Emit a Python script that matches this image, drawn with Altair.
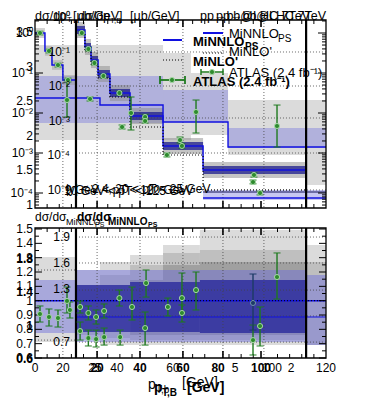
import altair as alt
import pandas as pd

FONT = "Liberation Sans"
W, H = 291, 338          # one plot area holding both panels
X0, Y0 = 35, 20          # page position of the plot origin

# ---------------- scales ----------------
XS = alt.Scale(domain=[0, 120], nice=False, zero=False)
TOP = alt.Scale(type="log", domain=[10 ** -8.125, 10 ** 0.325], nice=False)
BOT = alt.Scale(domain=[0.6, 2.9585], nice=False, zero=False)
TOP_B = alt.Scale(type="log", domain=[10 ** -9.87, 10 ** -0.0725], nice=False)
TOP_LIN = alt.Scale(domain=[-1.211, 3.673], nice=False, zero=False)
BOT_B = alt.Scale(domain=[0.517, 4.38], nice=False, zero=False)
BOT_BOLD = alt.Scale(domain=[0.612, 4.668], nice=False, zero=False)

# ---------------- data: upper panel ----------------
grey_edges = [0, 16.9, 52.8, 64.3, 79.6, 111.8, 120]
grey_hi = [0.501, 0.501, 0.316, 0.1, 0.0211, 0.0211]
grey_lo = [0.00211, 0.00211, 0.00211, 0.00282, 0.000891, 0.000158]

blue_edges = [0, 52.8, 79.6, 120]
blue_hi = [0.0841, 0.0376, 0.00422]
blue_lo = [0.00562, 0.00596, 0.00133]
bline_edges = [0, 26.8, 52.8, 79.6, 120]
bline_vals = [0.0237, 0.0158, 0.00596, 0.00141]

fine_edges = [16.9, 20.6, 23.1, 26.0, 30.9, 39.2, 52.8, 69.3, 111.8]
fine_vals = [1.19, 0.447, 0.211, 0.0944, 0.0316, 0.00841, 0.0015, 0.000376]
fine_nv_hi = [1.5, 0.563, 0.266, 0.119, 0.0398, 0.0106, 0.00189, 0.000474]
fine_nv_lo = [0.944, 0.355, 0.167, 0.0749, 0.0251, 0.00667, 0.00119, 0.000298]
fine_gr_hi = [1.89, 0.708, 0.334, 0.150, 0.0501, 0.0133, 0.00238, 0.000596]
fine_gr_lo = [0.751, 0.282, 0.133, 0.0596, 0.0199, 0.00531, 0.000946, 0.000237]
fine_minlo = [0.945, 0.355, 0.168, 0.075, 0.0251, 0.00447, 0.000891, 0.000119]

low_edges = [0, 4.1, 7.0, 11.5, 16.9]
low_vals = [1.0, 0.355, 0.158, 0.0668]
low_gr_hi = [1.33, 0.47, 0.21, 0.089]
low_gr_lo = [0.75, 0.27, 0.12, 0.05]

tail_edges = [69.3, 120]
tail_lo = [0.0000668]
tail_hi = [0.000119]
tail_line = [0.000075]
tail_line2 = [0.000106]

top_px = [2.06, 5.77, 9.48, 13.6, 13.2, 19.3, 22.0, 24.5, 28.2, 34.8, 45.4, 45.4,
          59.8, 60.6, 22.7, 35.9, 39.6, 54.4, 66.4, 99.8, 90.3, 89.9, 92.8]
top_py = [1.0, 0.355, 0.158, 0.0668, 0.0211, 1.0, 0.398, 0.178, 0.0841, 0.0316, 0.00794, 0.00631,
          0.00211, 0.0015, 0.0224, 0.00447, 0.01, 0.000891, 0.0106, 0.00473, 0.000282, 0.000188, 0.0001]
top_lo = [0.9, 0.32, 0.142, 0.06, 0.00794, 0.9, 0.36, 0.16, 0.075, 0.028, 0.0068, 0.0056,
          0.0018, 0.0013, 0.02, 0.004, 0.00376, 0.0008, 0.00316, 0.00141, 0.00025, 0.00017, 0.00009]
top_hi = [1.1, 0.39, 0.175, 0.074, 0.0668, 1.1, 0.44, 0.2, 0.094, 0.035, 0.0092, 0.0071,
          0.0025, 0.0017, 0.025, 0.005, 0.0251, 0.001, 0.0211, 0.0158, 0.00032, 0.00021, 0.00011]

# ---------------- data: ratio panel ----------------
rg1_edges = [0, 16.9, 26.8, 39.2, 52.8, 68.0, 111.8, 120]
rg1_hi = [1.305, 1.214, 1.270, 1.319, 1.388, 1.493, 1.388]
rg1_lo = [0.711, 0.725, 0.690, 0.690, 0.690, 0.690, 0.690]
rg2_edges = [16.9, 26.8, 39.2, 52.8, 68.0, 111.8, 120]
rg2_hi = [1.109, 1.179, 1.249, 1.333, 1.353, 1.270]
rg2_lo = [0.760, 0.739, 0.725, 0.725, 0.725, 0.690]
rg3_edges = [39.2, 52.8, 68.0, 111.8]
rg3_hi = [1.144, 1.249, 1.270]
rg3_lo = [0.760, 0.760, 0.760]
rl_edges = [0, 16.9, 111.8, 120]
rl_hi = [1.144, 1.214, 1.179]
rl_lo = [0.774, 0.711, 0.690]
rn_edges = [16.9, 39.2, 68.0, 111.8]
rn_hi = [1.109, 1.130, 1.144]
rn_lo = [0.781, 0.781, 0.774]

r_x = [2.06, 5.77, 9.48, 13.2, 14.4, 18.6, 22.0, 25.2, 28.5, 34.8, 18.6, 22.0, 25.2, 28.5, 35.1,
       40.0, 45.8, 45.4, 54.8, 60.6, 60.6, 66.4, 99.8, 92.8, 89.9]
r_y = [0.907, 0.886, 0.879, 0.998, 0.935, 0.956, 0.914, 0.886, 0.928, 1.018, 0.788, 0.739, 0.732, 0.746, 0.746,
       0.956, 1.123, 0.809, 0.956, 1.018, 0.914, 1.074, 1.165, 0.823, 0.725]
r_lo = [0.851, 0.823, 0.816, 0.914, 0.879, 0.914, 0.865, 0.837, 0.879, 0.963, 0.725, 0.684, 0.677, 0.690, 0.690,
        0.865, 1.025, 0.690, 0.893, 0.921, 0.851, 0.935, 1.011, 0.684, 0.621]
r_hi = [0.963, 0.942, 0.935, 1.095, 0.991, 0.998, 0.963, 0.935, 0.977, 1.074, 0.851, 0.795, 0.795, 0.809, 0.795,
        1.095, 1.214, 0.921, 1.018, 1.193, 0.970, 1.200, 1.333, 0.956, 0.830]
rn_x = [89.9]
rn_y = [0.984]
rn_elo = [0.795]
rn_ehi = [1.186]

# ---------------- tick labels ----------------
top_lab_v = [1, 0.1, 0.01, 0.001, 0.0001]
top_lab_t = ["10⁰", "10⁻¹", "10⁻²", "10⁻³", "10⁻⁴"]
lin_lab_v = [1, 1.5, 2, 2.5, 3, 3.5]
lin_lab_t = ["1", "1.5", "2", "2.5", "3", "3.5"]
inB_lab_v = [1, 0.1, 0.01, 0.001, 0.0001, 0.00001]
inB_lab_t = ["10⁰", "10⁻¹", "10⁻²", "10⁻³", "10⁻⁴", "10⁻⁵"]
r_lab_v = [0.6, 0.7, 0.8, 0.9, 1.0, 1.1, 1.2, 1.3, 1.4, 1.5]
r_lab_t = ["0.6", "0.7", "0.8", "0.9", "1", "1.1", "1.2", "1.3", "1.4", "1.5"]
rb_lab_v = [0.6, 1.0, 1.4, 1.8]
rb_lab_t = ["0.6", "1", "1.4", "1.8"]
rB_lab_v = [0.7, 1.3, 1.6, 1.9]
rB_lab_t = ["0.7", "1.3", "1.6", "1.9"]
x_light_v = [0, 11.5, 24.7, 33.8, 56.9, 82.5, 97.7, 105.6, 120]
x_light_t = ["0", "20", "25", "40", "60", "5", "100", "2", "120"]
x_bold_v = [25.6, 43.3, 61.0, 75.5, 93.2]
x_bold_t = ["20", "40", "60", "80", "100"]

# grid / tick positions
gridB_top = [0.335, 0.0473, 0.0075, 0.001, 0.000119]
gridB_bot = [1.444, 1.263, 1.074, 0.893, 0.711]
gridC_bot = [1.214, 0.725]
grid_x = [11.5, 25.6, 43.3, 61.0, 77.5, 94.4]
top_major = [1, 0.1, 0.01, 0.001, 0.0001]
top_minor = [m * 10.0 ** e for e in range(-5, 1) for m in range(2, 10) if 4.3e-5 < m * 10.0 ** e < 2.1]
bot_major = [0.6, 0.7, 0.8, 0.9, 1.0, 1.1, 1.2, 1.3, 1.4, 1.5]
bot_minor = [0.65, 0.75, 0.85, 0.95, 1.05, 1.15, 1.25, 1.35, 1.45]
x_major = [25.6, 43.3, 61.0, 77.5, 93.2]
x_minor = [5, 10, 15, 20, 30, 35, 40, 50, 55, 65, 70, 80, 85, 90, 100, 105, 110, 115]


# ---------------- helpers ----------------
def xenc(f="x"):
    return alt.X(f + ":Q", scale=XS, axis=None)


def yenc(f, s):
    return alt.Y(f + ":Q", scale=s, axis=None)


def bands(edges, lo, hi, s, color, op):
    df = pd.DataFrame({"x": edges[:-1], "x2": edges[1:], "lo": lo, "hi": hi})
    return alt.Chart(df).mark_rect(color=color, opacity=op).encode(
        x=xenc(), x2="x2:Q", y=yenc("lo", s), y2="hi:Q")


def steps(edges, vals, s, color, w=1.5, dash=None, op=1.0):
    df = pd.DataFrame({"x": edges, "y": list(vals) + [vals[-1]]})
    kw = dict(color=color, strokeWidth=w, interpolate="step-after", opacity=op)
    if dash:
        kw["strokeDash"] = dash
    return alt.Chart(df).mark_line(**kw).encode(x=xenc(), y=yenc("y", s))


def hlines(vals, x1, x2, s, color="#444444", w=0.8, dash=(1, 2)):
    df = pd.DataFrame({"y": vals, "x": [x1] * len(vals), "x2": [x2] * len(vals)})
    return alt.Chart(df).mark_rule(color=color, strokeWidth=w, strokeDash=list(dash)).encode(
        x=xenc(), x2="x2:Q", y=yenc("y", s))


def vlines(xs, ya, yb, color="#444444", w=0.8, dash=(1, 2)):
    df = pd.DataFrame({"x": xs})
    kw = dict(color=color, strokeWidth=w)
    if dash:
        kw["strokeDash"] = list(dash)
    return alt.Chart(df).mark_rule(**kw).encode(x=xenc(), y=alt.value(ya), y2=alt.value(yb))


def errpts(xs, ys, lo, hi, s, color="#1f7a1f", fill="#2e8b2e", stroke="#a6d6a6", cap=7):
    df = pd.DataFrame({"x": xs, "y": ys, "lo": lo, "hi": hi})
    base = alt.Chart(df)
    return [
        base.mark_rule(color=color, strokeWidth=1.4).encode(x=xenc(), y=yenc("lo", s), y2="hi:Q"),
        base.mark_tick(color=color, orient="horizontal", size=cap, thickness=1.4).encode(x=xenc(), y=yenc("lo", s)),
        base.mark_tick(color=color, orient="horizontal", size=cap, thickness=1.4).encode(x=xenc(), y=yenc("hi", s)),
        base.mark_circle(size=26, color=fill, stroke=stroke, strokeWidth=1, opacity=1).encode(x=xenc(), y=yenc("y", s)),
    ]


def yticks(vals, s, length, side, w=1.0):
    x1, x2 = (0, length) if side == "left" else (W - length, W)
    return alt.Chart(pd.DataFrame({"v": vals})).mark_rule(color="black", strokeWidth=w).encode(
        y=yenc("v", s), x=alt.value(x1), x2=alt.value(x2))


def ylabels(vals, labels, s, xpix, size=12, weight="normal"):
    df = pd.DataFrame({"v": vals, "t": labels})
    return alt.Chart(df).mark_text(align="right", baseline="middle", font=FONT, fontSize=size,
                                   fontWeight=weight, color="black").encode(
        y=yenc("v", s), x=alt.value(xpix - X0), text="t:N")


def xlabels(vals, labels, ypix, size=12, weight="normal"):
    df = pd.DataFrame({"x": vals, "t": labels})
    return alt.Chart(df).mark_text(align="center", baseline="middle", font=FONT, fontSize=size,
                                   fontWeight=weight, color="black").encode(
        x=xenc(), y=alt.value(ypix - Y0), text="t:N")


def note(txt, xpix, ypix, size=13, weight="normal", align="left"):
    return alt.Chart(pd.DataFrame({"t": [txt]})).mark_text(
        align=align, baseline="alphabetic", font=FONT, fontSize=size, fontWeight=weight, color="black"
    ).encode(x=alt.value(xpix - X0), y=alt.value(ypix - Y0), text="t:N")


def seg(x1, x2, y1, y2, color, w=2, dash=None):
    kw = dict(color=color, strokeWidth=w)
    if dash:
        kw["strokeDash"] = dash
    return alt.Chart(pd.DataFrame({"a": [0]})).mark_rule(**kw).encode(
        x=alt.value(x1 - X0), x2=alt.value(x2 - X0), y=alt.value(y1 - Y0), y2=alt.value(y2 - Y0))


def dot(xp, yp):
    return alt.Chart(pd.DataFrame({"a": [0]})).mark_circle(size=26, color="#2e8b2e", stroke="#a6d6a6",
                                                          strokeWidth=1, opacity=1).encode(
        x=alt.value(xp - X0), y=alt.value(yp - Y0))


def frame(ya, yb):
    return alt.Chart(pd.DataFrame({"x": [0], "x2": [120]})).mark_rect(
        fillOpacity=0, stroke="black", strokeWidth=1.3).encode(
        x=xenc(), x2="x2:Q", y=alt.value(ya), y2=alt.value(yb))


BLUE = "#1010e0"
layers = []
# ---- upper panel bands
layers += [
    bands(grey_edges, grey_lo, grey_hi, TOP, "#d9d9d9", 0.95),
    bands(blue_edges, blue_lo, blue_hi, TOP, "#6b6bdc", 0.38),
    bands(tail_edges, tail_lo, tail_hi, TOP, "#6b6bdc", 0.38),
    bands(low_edges, low_gr_lo, low_gr_hi, TOP, "#9a9a9a", 0.45),
    bands(fine_edges, fine_gr_lo, fine_gr_hi, TOP, "#8c8c8c", 0.5),
    bands(fine_edges, fine_nv_lo, fine_nv_hi, TOP, "#1c1c8c", 0.75),
]
# ---- ratio panel bands
layers += [
    bands(rg1_edges, rg1_lo, rg1_hi, BOT, "#d9d9d9", 0.95),
    bands(rg2_edges, rg2_lo, rg2_hi, BOT, "#a8a8a8", 0.55),
    bands(rg3_edges, rg3_lo, rg3_hi, BOT, "#7a7a7a", 0.45),
    bands(rl_edges, rl_lo, rl_hi, BOT, "#6b6bdc", 0.45),
    bands(rn_edges, rn_lo, rn_hi, BOT, "#23239a", 0.75),
]
# ---- grids
layers += [
    hlines(gridB_top, 16.9, 120, TOP),
    hlines(gridB_bot, 16.9, 120, BOT),
    hlines(gridC_bot, 0, 16.9, BOT),
    vlines(grid_x, 0, 188),
    vlines(grid_x, 208, 338),
]
# ---- lines
layers += [
    steps(bline_edges, bline_vals, TOP, BLUE, 1.4),
    steps(tail_edges, tail_line, TOP, BLUE, 1.4),
    steps(tail_edges, tail_line2, TOP, "#14145a", 1.2),
    steps(low_edges, low_vals, TOP, BLUE, 1.5),
    steps(fine_edges, fine_vals, TOP, BLUE, 1.5),
    steps(fine_edges, fine_minlo, TOP, "black", 1.2, [1, 2]),
    hlines([1.0], 0, 120, BOT, BLUE, 1.4, (1, 0)),
    hlines([0.886], 16.9, 120, BOT, BLUE, 1.2, (1, 0)),
    hlines([1.0], 0, 120, BOT, "black", 1.0, (1, 2)),
]
# ---- frames and ticks
layers += [
    frame(0, 188), frame(208, 338),
    vlines([16.9, 111.8], 0, 188, "black", 2.2, None),
    vlines([16.9, 111.8], 208, 338, "black", 2.2, None),
    yticks(top_major, TOP, 8, "left"), yticks(top_minor, TOP, 4, "left"),
    yticks(top_major, TOP, 8, "right"), yticks(top_minor, TOP, 4, "right"),
    yticks(bot_major, BOT, 7, "left"), yticks(bot_minor, BOT, 4, "left"),
    yticks(bot_major, BOT, 7, "right"), yticks(bot_minor, BOT, 4, "right"),
    vlines(x_major, 0, 7, "black", 1.6, None), vlines(x_minor, 0, 4, "black", 1.0, None),
    vlines(x_major, 181, 188, "black", 1.6, None), vlines(x_minor, 184, 188, "black", 1.0, None),
    vlines(x_major, 208, 215, "black", 1.6, None), vlines(x_minor, 208, 212, "black", 1.0, None),
    vlines(x_major, 331, 338, "black", 1.6, None), vlines(x_minor, 334, 338, "black", 1.0, None),
]
# ---- data points
layers += errpts(top_px, top_py, top_lo, top_hi, TOP)
layers += errpts(r_x, r_y, r_lo, r_hi, BOT)
layers += errpts(rn_x, rn_y, rn_elo, rn_ehi, BOT, color="#1d3b66", fill="#1d3b66", stroke="#6f8fb0")

# ---- axis labels
layers += [
    ylabels(top_lab_v, top_lab_t, TOP, 33),
    ylabels(lin_lab_v, lin_lab_t, TOP_LIN, 33),
    ylabels(inB_lab_v, inB_lab_t, TOP_B, 70),
    ylabels(r_lab_v, r_lab_t, BOT, 33),
    ylabels(rb_lab_v, rb_lab_t, BOT_BOLD, 33, weight="bold"),
    ylabels(rB_lab_v, rB_lab_t, BOT_B, 70),
    xlabels(x_light_v, x_light_t, 368),
    xlabels(x_bold_v, x_bold_t, 368, weight="bold"),
]
# ---- titles and notes
layers += [
    note("dσ/dp", 35, 19.5, 12.5), note("T", 67, 22, 8), note("[μb/GeV]", 73, 19.5, 12.5),
    note("dσ/dp", 78, 19.5, 12.5), note("T,B", 110, 22.5, 8), note("[μb/GeV]", 130, 19.5, 12.5),
    note("pp→bb@LHC 7TeV", 326, 19.5, 12.5, align="right"),
    note("pp→bb@LHC 7TeV", 200, 19.5, 12.5),
    note("dσ/dσ", 35, 221, 12), note("MiNNLO", 66, 225, 9), note("PS", 95, 227, 7),
    note("dσ/dσ", 77, 221, 12, "bold"), note("MiNNLO", 108, 225, 10, "bold"), note("PS", 148, 227, 7, "bold"),
    note("9 GeV < pT < 120 GeV", 65, 194, 12),
    note("|y| < 2.4, 20 < pT < 25 GeV", 66, 193, 12),
    note("10 GeV < pT < 125 GeV", 64, 195, 12),
    note("p", 148, 389, 14), note("T,b", 156, 393, 10), note("[GeV]", 182, 387, 14),
    note("p", 154, 392, 14, "bold"), note("T,B", 162, 396, 10, "bold"), note("[GeV]", 187, 392, 14, "bold"),
]
# ---- legends (two overlapping copies)
layers += [
    seg(203, 223, 33, 33, BLUE, 2), note("MiNNLO", 229, 38, 13), note("PS", 278, 42, 10),
    seg(203, 223, 53, 53, "black", 1.2, [1, 2]), note("MiNLO'", 229, 56, 13),
    seg(201, 223, 72, 72, "#1f7a1f", 1.5), seg(201, 201, 69, 75, "#1f7a1f", 1.5),
    seg(223, 223, 69, 75, "#1f7a1f", 1.5), dot(212, 72), note("ATLAS (2.4 fb⁻¹)", 229, 77, 13),
    seg(163, 182, 40, 40, BLUE, 2), note("MiNNLO", 193, 46, 13, "bold"), note("PS", 245, 50, 10, "bold"),
    seg(163, 182, 60, 60, "black", 1.2, [1, 2]), note("MiNLO'", 193, 66, 13, "bold"),
    seg(160, 185, 80, 80, "#1f7a1f", 1.8), seg(160, 160, 76, 84, "#1f7a1f", 1.8),
    seg(185, 185, 76, 84, "#1f7a1f", 1.8), dot(172, 80), note("ATLAS (2.4 fb⁻¹)", 193, 86, 13, "bold"),
]

chart = alt.layer(*layers).resolve_scale(y="independent").properties(
    width=W, height=H,
    autosize=alt.AutoSizeParams(type="none"),
    padding={"left": 27, "top": 12, "right": 48, "bottom": 44},
).configure_view(stroke=None)

chart.save("out.html", embed_options={"renderer": "svg", "actions": False})
